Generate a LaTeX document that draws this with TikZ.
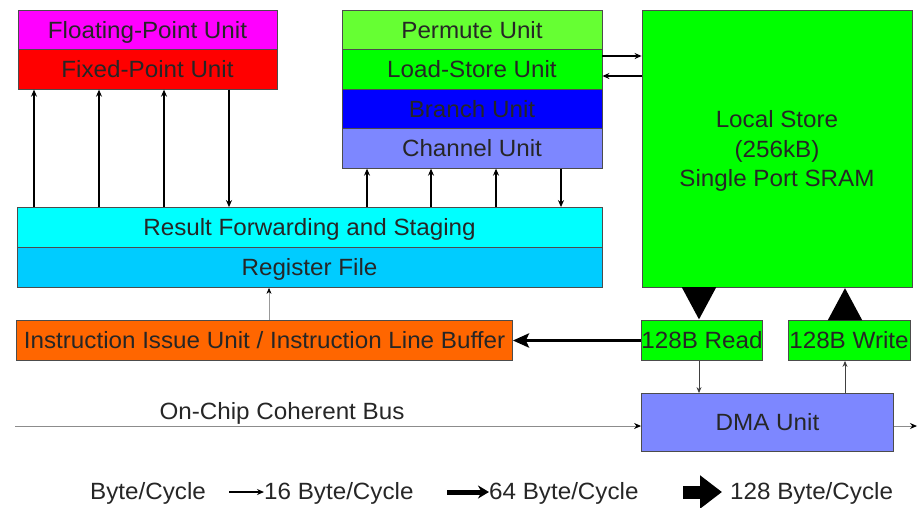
\documentclass[tikz,border=0pt]{standalone}
\usepackage{fontspec}
\setmainfont[FakeStretch=1.03]{Liberation Sans}
\usetikzlibrary{arrows.meta}
\definecolor{fpcol}{RGB}{255,0,255}
\definecolor{fxcol}{RGB}{255,0,0}
\definecolor{pmcol}{RGB}{102,255,51}
\definecolor{lscol}{RGB}{0,255,0}
\definecolor{brcol}{RGB}{0,0,255}
\definecolor{chcol}{RGB}{125,135,255}
\definecolor{rfscol}{RGB}{0,255,255}
\definecolor{rfcol}{RGB}{0,204,255}
\definecolor{iucol}{RGB}{255,102,0}
\begin{document}
\begin{tikzpicture}[x=1pt,y=-1pt,>=Stealth,
    unit/.style={draw=black!70,line width=.8pt,inner sep=0pt,minimum height=39.5pt,
        font=\fontsize{23.5}{29}\selectfont,text=black!85,text height=16.5pt,text depth=0pt},
    thinarr/.style={->,line width=1.6pt,>={Stealth[length=7pt,width=6pt]}},
    dmaarr/.style={->,line width=.9pt,black!75,>={Stealth[length=6pt,width=5pt]}},
    midarr/.style={->,line width=3.5pt,>={Stealth[length=16pt,width=14pt,inset=3pt]}},
    bigarr/.style={-{Triangle[length=#1,width=32pt]},line width=13pt},
    bigarr/.default=33pt,
    bus/.style={->,line width=1pt,black!45,>={Stealth[length=7pt,width=6pt,black]}},
    lbl/.style={font=\fontsize{23.5}{29.5}\selectfont,text=black!85,inner sep=0pt}]
\useasboundingbox (0,0) rectangle (918,507);

% execution units
\node[unit,fill=fpcol,minimum width=259pt] (fpu) at (147.5,30) {Floating-Point Unit};
\node[unit,fill=fxcol,minimum width=259pt] (fxu) at (147.5,69.5) {Fixed-Point Unit};
\node[unit,fill=pmcol,minimum width=260pt] (pmu) at (472,30) {Permute Unit};
\node[unit,fill=lscol,minimum width=260pt] (lsu) at (472,69.5) {Load-Store Unit};
\node[unit,fill=brcol,minimum width=260pt] (bru) at (472,109) {Branch Unit};
\node[unit,fill=chcol,minimum width=260pt] (chu) at (472,148.5) {Channel Unit};
\node[unit,fill=rfscol,minimum width=585pt,minimum height=40pt] (rfs) at (309.5,227.5) {Result Forwarding and Staging};
\node[unit,fill=rfcol,minimum width=585pt,minimum height=40pt] (rf) at (309.5,267.5) {Register File};
\node[unit,fill=iucol,minimum width=496pt,minimum height=40pt] (iiu) at (264.5,340.5) {Instruction Issue Unit / Instruction Line Buffer};

% local store and dma
\node[unit,fill=lscol,minimum width=270pt,minimum height=277pt] (ls) at (777,148.5) {};
\node[lbl,align=center] (lstext) at (777,151) {Local Store\\(256kB)\\Single Port SRAM};
\node[unit,fill=lscol,minimum width=121pt,minimum height=40pt] (rd) at (702,340.5) {128B Read};
\node[unit,fill=lscol,minimum width=122pt,minimum height=40pt] (wr) at (849,340.5) {128B Write};
\node[unit,fill=chcol,minimum width=252pt,minimum height=58pt] (dma) at (767.5,422.5) {DMA Unit};

\foreach \x in {34,99,164}
{
    \draw[thinarr](\x,0 |- rfs.north)--(\x,0 |- fxu.south);
}
\draw[thinarr](229,0 |- fxu.south)--(229,0 |- rfs.north);
\foreach \x in {367,431,496}
{
    \draw[thinarr](\x,0 |- rfs.north)--(\x,0 |- chu.south);
}
\draw[thinarr](561,0 |- chu.south)--(561,0 |- rfs.north);

\draw[thinarr](lsu.east |- 0,56)--(ls.west |- 0,56);
\draw[thinarr](ls.west |- 0,76)--(lsu.east |- 0,76);

\draw[bigarr](699,0 |- ls.south)--(699,0 |- rd.north);
\draw[bigarr](845,0 |- wr.north)--(845,0 |- ls.south);
\draw[midarr](rd.west)--(iiu.east);
\draw[->,black!40,line width=.6pt,>={Stealth[length=6pt,width=5pt,black]}](269,0 |- iiu.north)--(269,0 |- rf.south);
\draw[dmaarr](699,0 |- rd.south)--(699,0 |- dma.north);
\draw[dmaarr](845,0 |- dma.north)--(845,0 |- wr.south);

% bus
\coordinate (busL) at (15,426);
\coordinate (busR) at (917,426);
\draw[bus](busL)--(dma.west |- busL);
\draw[bus](dma.east |- busL)--(busR);
\node[lbl] (busname) at (282,413) {On-Chip Coherent Bus};

% legend
\node[lbl,anchor=west] (lg8) at (90,493) {Byte/Cycle};
\node[lbl,anchor=west] (lg16) at (264,493) {16 Byte/Cycle};
\node[lbl,anchor=west] (lg64) at (489,493) {64 Byte/Cycle};
\node[lbl,anchor=west] (lg128) at (730,493) {128 Byte/Cycle};
\coordinate (a16) at (229,492);
\coordinate (a64) at (447,492);
\coordinate (a128) at (683,492);
\draw[->,line width=1.6pt,>={Stealth[length=7pt,width=6pt]}](a16)--(lg16.west |- a16);
\draw[->,line width=5pt,>={Stealth[length=11pt,width=13pt]}](a64)--(lg64.west |- a64);
\draw[bigarr=22pt](a128)--(a128 -| 722,0);
\end{tikzpicture}
\end{document}
